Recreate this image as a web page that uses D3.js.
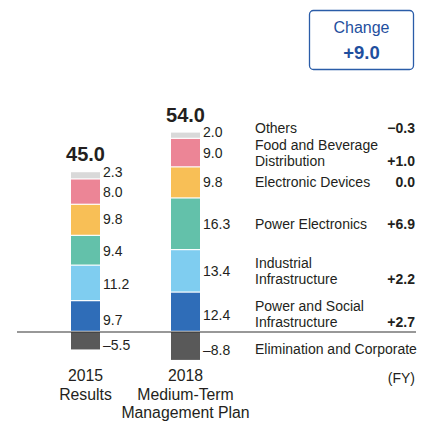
<!DOCTYPE html>
<html>
<head>
<meta charset="utf-8">
<script src="https://cdn.jsdelivr.net/npm/d3@7"></script>
<style>
  body { margin: 0; background: #fff; }
  text { font-family: "Liberation Sans", Arial, Helvetica, sans-serif; fill: #231f20; }
</style>
</head>
<body>
<div id="chart"></div>
<script>
// data
const years = ['2015', '2018'];
const yearLabels = [['2015', 'Results'], ['2018', 'Medium-Term', 'Management Plan']];
const categories = ['Power and Social Infrastructure', 'Industrial Infrastructure', 'Power Electronics',
  'Electronic Devices', 'Food and Beverage Distribution', 'Others', 'Elimination and Corporate'];
const categoryLines = [['Power and Social', 'Infrastructure'], ['Industrial', 'Infrastructure'], ['Power Electronics'],
  ['Electronic Devices'], ['Food and Beverage', 'Distribution'], ['Others'], ['Elimination and Corporate']];
const values2015 = [9.7, 11.2, 9.4, 9.8, 8.0, 2.3, -5.5];
const values2018 = [12.4, 13.4, 16.3, 9.8, 9.0, 2.0, -8.8];
const totals = [45.0, 54.0];
const changes = ['+2.7', '+2.2', '+6.9', '0.0', '+1.0', '\u22120.3', ''];
const totalChange = '+9.0';

const colors = ['#2f6db8', '#7fcdf0', '#63c1aa', '#f8bf56', '#ec8596', '#d9d9d9', '#595959'];

const width = 429, height = 421;
const svg = d3.select('#chart').append('svg')
    .attr('width', width)
    .attr('height', height);

const y = d3.scaleLinear().domain([-10, 70]).range([363.7, 110.1]);
const x = d3.scalePoint().domain(years).range([85.5, 185.5]);
const barW = 29;

// nudges for labels (px)
const valNudge = [3, 0, 0, -1, 0, -4, 4];
const catNudge = [2, 0, 0, -1, 0, -8, 3];

const fmt = v => (v < 0 ? '\u2013' : '') + Math.abs(v).toFixed(1);

const series = [values2015, values2018];
series.forEach((vals, si) => {
  let pos = 0;
  const segs = vals.map((v, i) => {
    let y0, y1;
    if (v >= 0) { y0 = pos; y1 = pos + v; pos += v; }
    else { y0 = v; y1 = 0; }
    return {v, i, y0, y1};
  });
  const g = svg.append('g');
  g.selectAll('rect')
    .data(segs)
    .enter().append('rect')
    .attr('x', x(years[si]) - barW / 2)
    .attr('width', barW)
    .attr('y', d => y(d.y1))
    .attr('height', d => Math.max(0, y(d.y0) - y(d.y1) - (d.v >= 0 ? 1.2 : 0)))
    .attr('fill', d => colors[d.i]);

  g.selectAll('text.val')
    .data(segs)
    .enter().append('text')
    .attr('class', 'val')
    .attr('x', x(years[si]) + barW / 2 + 3)
    .attr('y', d => (y(d.y0) + y(d.y1)) / 2 + valNudge[d.i])
    .attr('dy', '0.36em')
    .style('font-size', '14px')
    .text(d => fmt(d.v));

  // total above bar
  svg.append('text')
    .attr('x', x(years[si]))
    .attr('y', y(pos) - 11)
    .attr('text-anchor', 'middle')
    .style('font-size', '20px')
    .style('font-weight', 'bold')
    .text(totals[si].toFixed(1));

  // year labels
  svg.append('g').selectAll('text')
    .data(yearLabels[si])
    .enter().append('text')
    .attr('x', x(years[si]))
    .attr('y', (d, k) => 381 + k * 18.5)
    .attr('text-anchor', 'middle')
    .style('font-size', '15.8px')
    .text(d => d);
});

// category labels aligned with the 2018 bar
let pos2 = 0;
const mids = values2018.map(v => {
  if (v >= 0) { const m = (y(pos2) + y(pos2 + v)) / 2; pos2 += v; return m; }
  return (y(0) + y(v)) / 2;
});

const labelX = 255, changeX = 415;
categories.forEach((c, i) => {
  const lines = categoryLines[i];
  const cy = mids[i] + catNudge[i];
  const lh = 16;
  lines.forEach((ln, k) => {
    svg.append('text')
      .attr('x', labelX)
      .attr('y', cy + (k - (lines.length - 1) / 2) * lh)
      .attr('dy', '0.36em')
      .style('font-size', '14px')
      .text(ln);
  });
  if (changes[i]) {
    svg.append('text')
      .attr('x', changeX)
      .attr('y', cy + ((lines.length - 1) / 2) * lh)
      .attr('dy', '0.36em')
      .attr('text-anchor', 'end')
      .style('font-size', '14px')
      .style('font-weight', 'bold')
      .text(changes[i]);
  }
});

// zero line
svg.append('line')
  .attr('x1', 17).attr('x2', 416)
  .attr('y1', y(0)).attr('y2', y(0))
  .attr('stroke', '#333')
  .attr('stroke-width', 1.2);

// (FY)
svg.append('text')
  .attr('x', changeX)
  .attr('y', 378)
  .attr('dy', '0.36em')
  .attr('text-anchor', 'end')
  .style('font-size', '14px')
  .text('(FY)');

// change box
const box = svg.append('g');
box.append('rect')
  .attr('x', 309.5).attr('y', 10.5)
  .attr('width', 104).attr('height', 59)
  .attr('rx', 4)
  .attr('fill', '#fff')
  .attr('stroke', '#2a5ca8')
  .attr('stroke-width', 1.3);
box.append('text')
  .attr('x', 361.5).attr('y', 27)
  .attr('dy', '0.36em')
  .attr('text-anchor', 'middle')
  .style('font-size', '16px')
  .style('fill', '#1f4f9e')
  .text('Change');
box.append('text')
  .attr('x', 361.5).attr('y', 52)
  .attr('dy', '0.36em')
  .attr('text-anchor', 'middle')
  .style('font-size', '18.5px')
  .style('font-weight', 'bold')
  .style('fill', '#1f4f9e')
  .text(totalChange);
</script>
</body>
</html>
